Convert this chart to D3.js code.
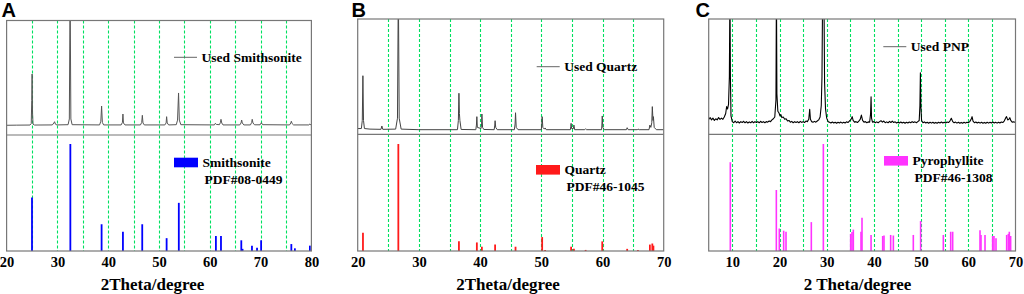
<!DOCTYPE html>
<html><head><meta charset="utf-8">
<script src="https://cdn.jsdelivr.net/npm/d3@7"></script>
<style>html,body{margin:0;padding:0;background:#fff;}svg{display:block}
.serif{font-family:"Liberation Serif","Times New Roman",Times,serif;font-weight:bold;}
</style>
</head><body>
<svg id="chart" width="1024" height="294"></svg>
<script>
// ---------------- DATA ----------------
// Measured patterns: [2theta, relative intensity]
const smithCurve = [[20,8.5],[22,8.6],[24.6,8.7],[24.85,10],[24.95,30],[25.02,53.3],[25.1,20],[25.2,9.5],[25.5,8.7],
 [29.0,8.8],[29.3,10.5],[29.45,11.6],[29.6,9.5],[29.9,8.8],
 [32.1,9.0],[32.35,14],[32.5,130],[32.65,14],[32.9,9.0],
 [38.3,8.8],[38.55,12],[38.7,25.3],[38.85,11],[39.1,8.8],
 [42.55,8.8],[42.8,11],[42.9,18.3],[43.0,10.5],[43.3,8.8],
 [46.35,8.8],[46.6,11],[46.72,17.2],[46.85,10.5],[47.1,8.8],
 [51.15,8.8],[51.4,10.5],[51.5,16],[51.62,10.5],[51.9,8.8],
 [53.4,9],[53.65,13],[53.85,36.7],[54.0,13],[54.3,9],
 [60.9,8.8],[61.1,10.2],[61.3,9.2],[61.9,9],[62.1,11],[62.2,13.7],[62.35,10.5],[62.6,8.8],
 [65.9,8.8],[66.15,10.5],[66.27,13.1],[66.4,10.5],[66.7,8.8],
 [68.0,8.8],[68.25,11],[68.35,13.7],[68.5,10.5],[68.8,8.9],
 [69.9,8.9],[70.15,10.7],[70.4,9],[75.7,8.8],[75.95,10.5],[76.05,12],[76.2,10],[76.5,8.8],
 [79.5,8.8],[79.7,9.6],[79.9,8.8],[80,8.7]];

const quartzCurve = [[20,5],[20.6,5],[20.75,12],[20.85,50.8],[20.95,12],[21.1,5],[22,4.5],[23.8,4.3],[23.95,7.2],[24.1,4.3],
 [26.2,4.5],[26.5,14],[26.64,130],[26.78,14],[27.1,4.5],[30,4],[36.3,4],[36.45,12],[36.54,35.6],[36.62,18],[36.7,12],[36.9,4.2],
 [39.3,4],[39.4,8],[39.47,15.3],[39.55,6],[40.15,5],[40.25,9],[40.29,17.6],[40.4,6],[40.6,4.2],
 [42.3,4],[42.4,8],[42.45,11.8],[42.55,6],[42.8,4],
 [45.6,4],[45.72,9],[45.79,18.7],[45.9,6],[46.2,4],
 [50.0,4],[50.08,9],[50.14,15.3],[50.25,6],[50.5,4.5],[50.62,5.5],[50.8,4],
 [54.75,4],[54.82,7],[54.87,9.5],[54.95,5],[55.25,5],[55.33,8],[55.45,4],
 [57.1,4],[57.24,4.8],[57.4,4],
 [59.85,4],[59.9,8],[59.96,15.9],[60.05,6],[60.3,4],
 [63.9,4],[64.03,5.7],[64.2,4],[65.7,4],[65.8,4.6],[66,4],
 [67.6,4],[67.74,8],[67.9,6],[68.05,10],[68.14,24],[68.25,12],[68.32,15.3],[68.45,6],[68.8,4],[70,4]];

const pnpCurve = [[5,13],[5.3,14.5],[5.6,12.5],[5.9,14],[6.2,12],[6.5,13.5],[6.8,12.5],[7.1,14.5],[7.4,13],[7.7,14],[8.0,13],[8.3,15],[8.6,18],[8.8,24],[9.0,22],[9.2,26],[9.38,50],[9.5,130],[9.6,50],[9.72,16],
 [10.0,11],[10.3,10],[10.6,11.5],[10.9,10],[11.2,11],[11.5,9.8],[11.8,11],[12.1,10.2],[12.4,11.3],[12.7,10],[13,11],[13.3,9.8],[13.6,10.8],[13.9,10],[14.2,11.2],[14.5,10],[14.8,11],[15.1,10.2],[15.4,11],[15.7,10],[16,11.3],[16.3,10.2],[16.6,11],[16.9,10],[17.2,11],[17.5,10.5],[17.8,11.5],[18.1,11],[18.4,12.5],[18.7,13.5],[19.0,15],[19.25,30],[19.35,130],[19.45,35],[19.65,20],[19.9,18.5],[20.1,16],[20.3,17],[20.5,14.5],[20.8,15],[21.1,13],[21.4,13.5],[21.7,11.5],[22,12],[22.3,10.5],[22.6,11.2],[22.9,10],[23.2,11],[23.5,10.2],[23.8,11],[24.1,10],[24.4,11.2],[24.7,10.3],[25,11],[25.3,10.2],[25.6,11.5],[25.9,11],[26.2,13],[26.4,21.7],[26.55,13],[26.8,11],[27.1,10.5],[27.4,11.2],[27.7,10.5],[28,11.5],[28.3,12.5],[28.6,15],[28.85,25],[29.0,50],[29.15,130],[29.4,130],[29.55,45],[29.75,22],[30.0,14],[30.3,11],[30.6,10.5],
 [30.9,9.8],[31.2,10.6],[31.5,9.8],[31.8,10.5],[32.1,9.6],[32.4,10.4],[32.7,9.8],[33,10.6],[33.3,9.7],[33.6,10.5],[33.9,9.8],[34.2,10.8],[34.5,10.2],[34.8,11.5],[35.1,12.5],[35.4,15.3],[35.6,12],[35.9,10.5],[36.2,11],[36.5,10.2],[36.8,11.5],[37.1,13],[37.35,16.7],[37.6,12],[37.9,10.5],[38.2,11],[38.5,10],[38.8,10.8],[39.1,10.5],[39.3,18],[39.4,32.6],[39.5,14],[39.7,10.5],
 [40,11],[40.3,10],[40.6,10.8],[40.9,10],[41.2,11],[41.5,11.8],[41.8,10.5],[42.1,11.5],[42.4,10],[42.7,10.8],[43,10],[43.3,11.2],[43.6,10.2],[43.9,11.5],[44.2,10.2],[44.5,10.8],[44.8,9.8],[45.1,10.5],[45.4,9.8],[45.7,10.6],[46,9.8],[46.3,10.5],[46.6,9.6],[46.9,10.4],[47.2,9.8],[47.5,10.6],[47.8,10],[48.1,11],[48.4,10.2],[48.7,10.8],[49,10],[49.3,11],[49.6,12],[49.75,25],[49.85,53.4],[49.95,25],[50.1,12],[50.4,10],[50.7,10.8],
 [51,9.8],[51.3,10.5],[51.6,9.6],[51.9,10.4],[52.2,9.7],[52.5,10.5],[52.8,9.6],[53.1,10.3],[53.4,9.6],[53.7,10.4],[54,9.8],[54.3,10.6],[54.6,9.8],[54.9,10.5],[55.2,9.8],[55.5,10.6],[55.8,10.2],[56.1,11.5],[56.4,13.9],[56.7,11],[57,10],[57.3,10.6],[57.6,9.7],[57.9,10.4],[58.2,9.6],[58.5,10.3],[58.8,9.6],[59.1,10.4],[59.4,9.7],[59.7,10.5],[60,10],[60.3,11],[60.6,13],[60.8,15.3],[61,11.5],[61.3,10],[61.6,10.6],[61.9,9.8],[62.2,10.5],[62.5,9.7],[62.8,10.4],[63.1,9.6],[63.4,10.3],[63.7,9.6],[64,10.4],[64.3,9.7],[64.6,10.5],[64.9,9.8],[65.2,10.6],[65.5,9.8],[65.8,10.4],[66.1,9.7],[66.4,10.5],[66.7,9.8],[67,10.6],[67.3,10.2],[67.6,11.5],[67.9,14],[68.1,15.3],[68.35,12.5],[68.6,13],[68.8,14.4],[69.0,12],[69.3,10.5],[69.6,10.8],[70,10.3]];

// Reference (PDF) stick patterns
const smithPos = [25.0,32.55,38.7,42.9,46.7,51.5,53.9,61.2,62.2,66.2,66.45,68.3,69.3,70.1,76.05,76.75,79.7];
const smithInt = [50,100,25,18,25,12,45,14,14,10,2,5,3,10,6.5,2.5,5];

const quartzPos = [20.86,26.64,36.54,39.47,40.29,42.45,45.79,50.14,50.62,54.87,55.33,57.24,59.96,64.03,65.79,67.74,68.14,68.32];
const quartzInt = [17,100,9,8,4,6,4,13,1,4,2,1,9,2,1,6,7,5];

const pyroPos = [9.58,19.33,19.96,20.88,21.38,26.74,29.29,35.08,35.36,35.64,37.27,37.48,39.4,41.86,42.14,43.55,44.12,48.35,49.9,54.71,56.27,56.69,62.48,62.69,63.54,65.16,65.44,65.87,68.13,68.48,68.69,68.97];
const pyroInt = [83,57,21,19,18,27,100,16,17.8,20,18,31,15,14,14.5,15,14.5,15,28,15,18,18,19.5,15,15,14,14,12,15,16,18,14];

// Axis ticks and grid positions
const ticksA = [20,30,40,50,60,70,80];
const ticksB = [20,30,40,50,60,70];
const ticksC = [10,20,30,40,50,60,70];
const gridA = [25,30,35,40,45,50,55,60,65,70,75];
const gridB = [25,30,35,40,45,50,55,60,65];
const gridC = [10,15,20,25,30,35,40,45,50,55,60,65];

// Labels
const panelLetters = ["A","B","C"];
const curveNames = ["Used Smithsonite","Used Quartz","Used PNP"];
const refNames = ["Smithsonite","Quartz","Pyrophyllite"];
const refCards = ["PDF#08-0449","PDF#46-1045","PDF#46-1308"];
const xTitles = ["2Theta/degree","2Theta/degree","2 Theta/degree"];

// ---------------- LAYOUT ----------------
const panels = [
 {x0:6.6, x1:311.4, top:20.5, div:135, bottom:251, domain:[20,80], ticks:ticksA, grid:gridA,
  curve:smithCurve, curveColor:"#555", curveW:1, pos:smithPos, int:smithInt, color:"#0000ff", stickW:1.8,
  lx:174, ly:57.3, rx:174, ry:157.7, titleX:152.5, letterX:1.5},
 {x0:357.7, x1:663.7, top:19, div:134.3, bottom:251, domain:[20,70], ticks:ticksB, grid:gridB,
  curve:quartzCurve, curveColor:"#444", curveW:1, pos:quartzPos, int:quartzInt, color:"#ff1a1a", stickW:1.8,
  lx:536.7, ly:66.7, rx:536, ry:165, titleX:508, letterX:351.5},
 {x0:708.7, x1:1015.5, top:19, div:134.3, bottom:251, domain:[5,70], ticks:ticksC, grid:gridC,
  curve:pnpCurve, curveColor:"#000", curveW:1.1, pos:pyroPos, int:pyroInt, color:"#ff33ff", stickW:1.6,
  lx:883.3, ly:46.7, rx:884, ry:156, titleX:857.5, letterX:695.5}
];

const svg = d3.select("#chart");

panels.forEach((p, i) => {
  const g = svg.append("g");
  const x = d3.scaleLinear().domain(p.domain).range([p.x0, p.x1]);
  const yTop = d3.scaleLinear().domain([0,100]).range([p.div, p.top]);
  const stickMax = p.bottom - 144;
  const yBot = d3.scaleLinear().domain([0,100]).range([p.bottom, p.bottom - stickMax]);
  const snap = v => Math.round(v) + 0.5;

  const cid = "clip" + i;
  svg.append("clipPath").attr("id", cid).append("rect")
    .attr("x", p.x0).attr("y", p.top).attr("width", p.x1 - p.x0).attr("height", p.div - p.top);

  // grid lines
  g.selectAll("line.grid").data(p.grid).join("line").attr("class", "grid")
    .attr("x1", d => snap(x(d))).attr("x2", d => snap(x(d)))
    .attr("y1", p.top).attr("y2", p.bottom)
    .attr("stroke", "#00e060").attr("stroke-width", 1.1).attr("stroke-dasharray", "3,2");

  // measured curve
  const line = d3.line().x(d => x(d[0])).y(d => yTop(d[1]));
  g.append("path").datum(p.curve).attr("d", line).attr("fill", "none")
    .attr("stroke", p.curveColor).attr("stroke-width", p.curveW)
    .attr("stroke-linejoin", "round").attr("clip-path", `url(#${cid})`);

  // reference sticks
  g.selectAll("line.stick").data(p.pos.map((v, k) => [v, p.int[k]])).join("line").attr("class", "stick")
    .attr("x1", d => x(d[0])).attr("x2", d => x(d[0]))
    .attr("y1", yBot(0)).attr("y2", d => yBot(d[1]))
    .attr("stroke", p.color).attr("stroke-width", p.stickW);

  // frame & divider
  g.append("rect").attr("x", p.x0).attr("y", p.top).attr("width", p.x1 - p.x0).attr("height", p.bottom - p.top)
    .attr("fill", "none").attr("stroke", "#777").attr("stroke-width", 1.2);
  g.append("line").attr("x1", p.x0).attr("x2", p.x1).attr("y1", p.div).attr("y2", p.div)
    .attr("stroke", "#777").attr("stroke-width", 1.2);

  // bottom axis
  const ax = g.append("g").attr("transform", `translate(0,${p.bottom})`)
    .call(d3.axisBottom(x).tickValues(p.ticks).tickSize(0).tickPadding(6).tickFormat(d3.format("d")));
  ax.select(".domain").remove();
  ax.attr("font-family", null).attr("font-size", null);
  ax.selectAll("text").attr("class", "serif").style("font-size", "14.5px").attr("fill", "#000");

  // x title
  g.append("text").attr("class", "serif").attr("x", p.titleX).attr("y", 290).attr("text-anchor", "middle")
    .style("font-size", "17px").text(xTitles[i]);

  // panel letter
  g.append("text").attr("x", p.letterX).attr("y", 16.7)
    .style("font-family", "'Liberation Sans',Arial,sans-serif").style("font-weight", "bold")
    .style("font-size", "20px").text(panelLetters[i]);

  // legend for measured curve
  g.append("line").attr("x1", p.lx).attr("x2", p.lx + 23).attr("y1", p.ly).attr("y2", p.ly)
    .attr("stroke", "#666").attr("stroke-width", 1);
  g.append("text").attr("class", "serif").attr("x", p.lx + 27.5).attr("y", p.ly + 4.5)
    .style("font-size", "13.5px").text(curveNames[i]);

  // legend for reference card
  g.append("rect").attr("x", p.rx).attr("y", p.ry).attr("width", 24).attr("height", 9.6)
    .attr("fill", p.color);
  g.append("text").attr("class", "serif").attr("x", p.rx + 28.5).attr("y", p.ry + 9)
    .style("font-size", "13.5px").text(refNames[i]);
  g.append("text").attr("class", "serif").attr("x", p.rx + 30.5).attr("y", p.ry + 25.8)
    .style("font-size", "13.5px").text(refCards[i]);
});
</script>
</body></html>
